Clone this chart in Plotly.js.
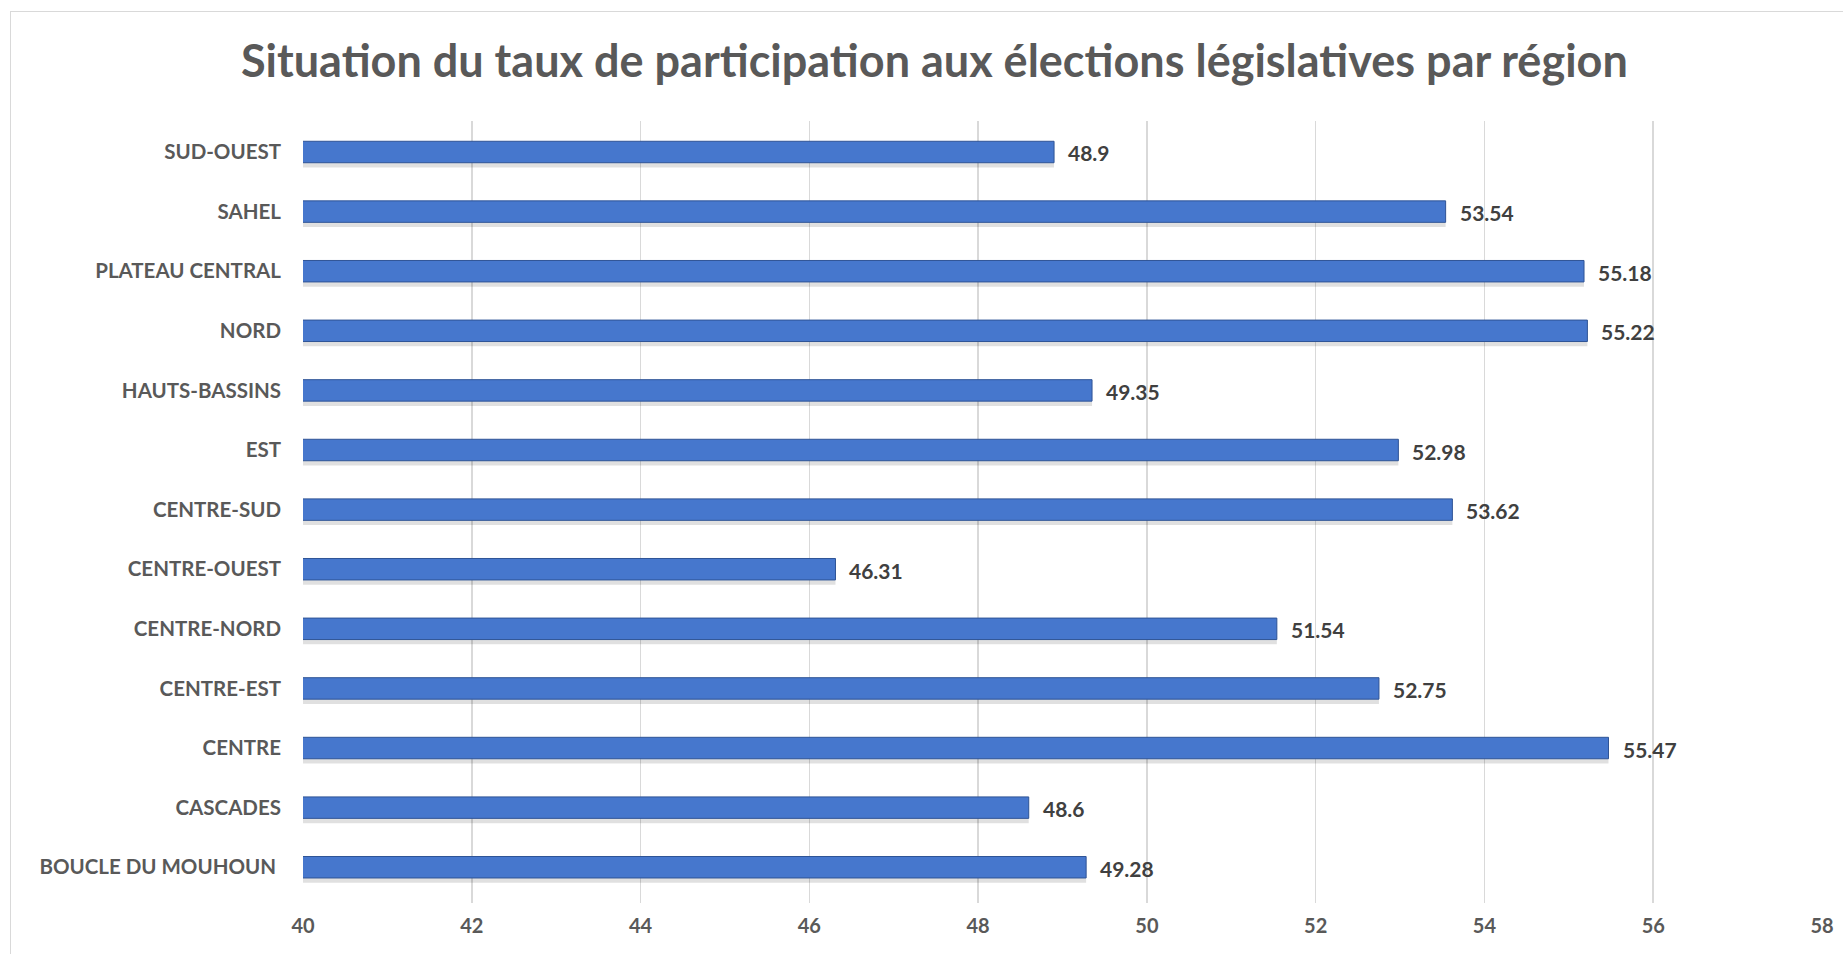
<!DOCTYPE html>
<html>
<head>
<meta charset="utf-8">
<script src="https://cdn.plot.ly/plotly-3.0.1.min.js"></script>
<style>
  html, body { margin: 0; padding: 0; background: #ffffff; }
  #frame { position: absolute; left: 10px; top: 11px; width: 1840px; height: 950px; border: 1px solid #d9d9d9; box-sizing: border-box; }
  #chart { position: absolute; left: 0; top: 0; width: 1843px; height: 954px; }
</style>
</head>
<body>
<div id="frame"></div>
<div id="chart"></div>
<script>
// Regions (bottom to top as drawn)
const regions = [
  "BOUCLE DU MOUHOUN ",
  "CASCADES",
  "CENTRE",
  "CENTRE-EST",
  "CENTRE-NORD",
  "CENTRE-OUEST",
  "CENTRE-SUD",
  "EST",
  "HAUTS-BASSINS",
  "NORD",
  "PLATEAU CENTRAL",
  "SAHEL",
  "SUD-OUEST"
];
// Taux de participation (%)
const taux = [49.28, 48.6, 55.47, 52.75, 51.54, 46.31, 53.62, 52.98, 49.35, 55.22, 55.18, 53.54, 48.9];
const xTicks = [40, 42, 44, 46, 48, 50, 52, 54, 56, 58];
const titleText = "Situation du taux de participation aux élections législatives par région";

const FONT = "Lato, 'Open Sans', sans-serif";
const GREY = "#595959";
const barWidth = 0.36;

const shadow = {
  type: "bar", orientation: "h",
  x: taux, y: regions,
  width: barWidth, offset: -barWidth / 2 - 0.08,
  marker: { color: "rgba(0,0,0,0.12)", line: { width: 0 } },
  hoverinfo: "skip", showlegend: false
};
const bars = {
  type: "bar", orientation: "h",
  x: taux, y: regions,
  width: barWidth, offset: -barWidth / 2,
  marker: { color: "#4677cd", line: { color: "#2f5496", width: 1 } },
  hoverinfo: "x+y", showlegend: false
};

const annotations = taux.map((v, i) => ({
  x: v, y: regions[i], xref: "x", yref: "y",
  text: String(v), showarrow: false,
  xanchor: "left", yanchor: "middle", xshift: 12, yshift: -1,
  font: { family: FONT, size: 21, color: "#404040", weight: "bold" }
}));

const layout = {
  width: 1843, height: 954,
  paper_bgcolor: "rgba(0,0,0,0)", plot_bgcolor: "rgba(0,0,0,0)",
  margin: { l: 303, r: 21, t: 121, b: 51 },
  title: {
    text: "<b>" + titleText + "</b>",
    x: 0.507, xref: "container", xanchor: "center",
    y: 0.936, yref: "container", yanchor: "middle",
    font: { family: FONT, size: 45, color: GREY, weight: "bold" }
  },
  barmode: "overlay",
  xaxis: {
    range: [40, 58], tickvals: xTicks, ticktext: xTicks.map(String),
    showgrid: true, gridcolor: "#d9d9d9", gridwidth: 1.5,
    zeroline: false, showline: false, ticks: "",
    ticklabelstandoff: 9,
    tickfont: { family: FONT, size: 20, color: GREY, weight: "bold" },
    fixedrange: true
  },
  yaxis: {
    type: "category", categoryorder: "array", categoryarray: regions,
    range: [-0.6, regions.length - 0.48],
    showgrid: false, zeroline: false, showline: false, ticks: "",
    ticklabelstandoff: 21,
    tickfont: { family: FONT, size: 20.5, color: GREY, weight: "bold" },
    fixedrange: true
  },
  annotations: annotations
};

Plotly.newPlot("chart", [shadow, bars], layout, { displayModeBar: false, staticPlot: true });
</script>
</body>
</html>
